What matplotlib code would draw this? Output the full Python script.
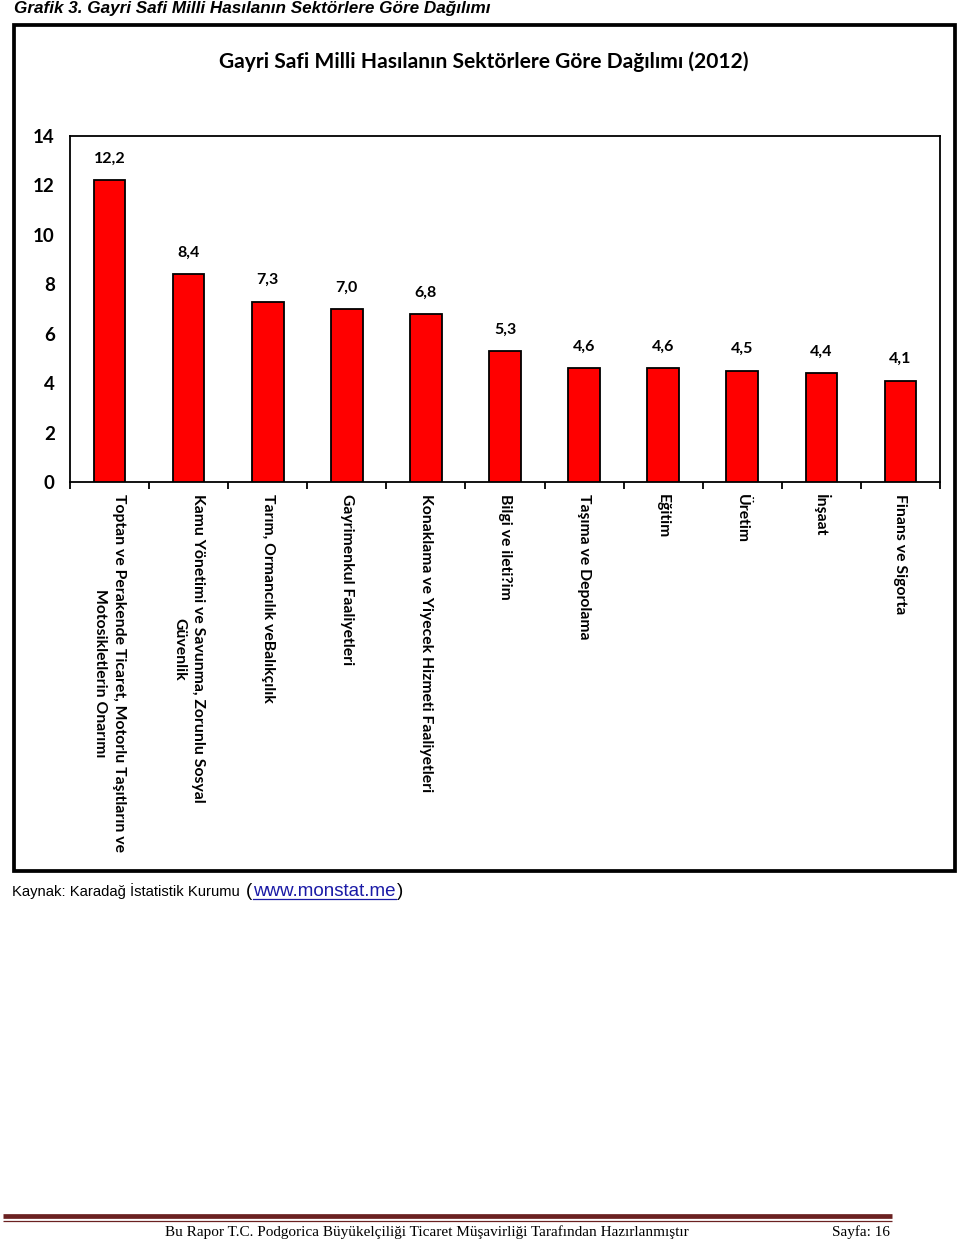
import matplotlib
matplotlib.use("Agg")
import matplotlib.pyplot as plt
from matplotlib.patches import Rectangle
from matplotlib.lines import Line2D

categories = [
    "Toptan ve Perakende Ticaret, Motorlu Taşıtların ve\nMotosikletlerin Onarımı",
    "Kamu Yönetimi ve Savunma, Zorunlu Sosyal\nGüvenlik",
    "Tarım, Ormancılık veBalıkçılık",
    "Gayrimenkul Faaliyetleri",
    "Konaklama ve Yiyecek Hizmeti Faaliyetleri",
    "Bilgi ve ileti?im",
    "Taşıma ve Depolama",
    "Eğitim",
    "Üretim",
    "İnşaat",
    "Finans ve Sigorta",
]
values = [12.2, 8.4, 7.3, 7.0, 6.8, 5.3, 4.6, 4.6, 4.5, 4.4, 4.1]
value_labels = ["12,2", "8,4", "7,3", "7,0", "6,8", "5,3", "4,6", "4,6", "4,5", "4,4", "4,1"]
yticks = [0, 2, 4, 6, 8, 10, 12, 14]

header = "Grafik 3. Gayri Safi Milli Hasılanın Sektörlere Göre Dağılımı"
chart_title = "Gayri Safi Milli Hasılanın Sektörlere Göre Dağılımı (2012)"
source_a = "Kaynak: Karadağ İstatistik Kurumu"
source_link = "www.monstat.me"
footer_text = "Bu Rapor T.C. Podgorica Büyükelçiliği Ticaret Müşavirliği Tarafından Hazırlanmıştır"
footer_page = "Sayfa: 16"

W, H = 960, 1242
fig = plt.figure(figsize=(W / 100, H / 100), dpi=100)

def fx(x):
    return x / W

def fy(y):
    return 1 - y / H

CAL = ["Lato", "DejaVu Sans"]

# outer frame
fig.patches.append(Rectangle((fx(13.5), fy(870.5)), fx(955) - fx(13.5), fy(25) - fy(870.5),
                             transform=fig.transFigure, fill=False, edgecolor="black",
                             linewidth=2.7, zorder=0))

# axes
left, right, top, bottom = 70, 940, 136, 482
ax = fig.add_axes([fx(left), fy(bottom), fx(right) - fx(left), fy(top) - fy(bottom)])
x = list(range(len(values)))
ax.bar(x, values, width=0.4, color="#FF0000", edgecolor="black", linewidth=1.3, zorder=3)
ax.set_xlim(-0.5, len(values) - 0.5)
ax.set_ylim(0, 14)
ax.set_yticks(yticks)
ax.set_yticklabels([str(t) for t in yticks], fontsize=13.5, fontweight="bold", family=CAL)
ax.tick_params(axis="y", length=0, pad=11)
ax.set_xticks(x)
ax.set_xticklabels(categories, rotation=270, ha="center", va="top", multialignment="center",
                   fontsize=11.3, fontweight="bold", family=CAL, linespacing=1.5)
ax.tick_params(axis="x", which="major", length=0, pad=9)
ax.set_xticks([i - 0.5 for i in range(len(values) + 1)], minor=True)
ax.tick_params(axis="x", which="minor", length=5, width=1.3, direction="out")
for s in ax.spines.values():
    s.set_linewidth(1.3)
for i, (v, lab) in enumerate(zip(values, value_labels)):
    ax.annotate(lab, (i, v), xytext=(0, 15.5), textcoords="offset points", ha="center", va="center",
                fontsize=11.5, fontweight="bold", family=CAL)

# titles
fig.text(fx(484), fy(62), chart_title, ha="center", va="center", fontsize=15.1, fontweight="bold", family=CAL)
fig.text(fx(14), fy(9), header, ha="left", va="center", fontsize=12.3, fontweight="bold",
         style="italic", family="Liberation Sans")

# source
base_y = fy(896)
t1 = fig.text(fx(12), base_y, source_a, ha="left", va="baseline", fontsize=10.6,
              family="Liberation Sans")
fig.canvas.draw()
bb = t1.get_window_extent()
t_open = fig.text((bb.x1 + 6) / W, base_y, "(", ha="left", va="baseline", fontsize=13.5,
                  family="Liberation Sans")
fig.canvas.draw()
bbo = t_open.get_window_extent()
t2 = fig.text((bbo.x1 + 1) / W, base_y, source_link, ha="left", va="baseline", fontsize=13.5,
              family="Liberation Sans", color="#1a1aa6")
fig.canvas.draw()
bb2 = t2.get_window_extent()
fig.lines.append(Line2D([bb2.x0 / W, bb2.x1 / W], [fy(898.5), fy(898.5)], transform=fig.transFigure,
                        color="#1a1aa6", linewidth=0.9))
fig.text((bb2.x1 + 1) / W, base_y, ")", ha="left", va="baseline", fontsize=13.5, family="Liberation Sans")

# footer
fig.lines.append(Line2D([fx(3), fx(892)], [fy(1215.5), fy(1215.5)], transform=fig.transFigure,
                        color="#6b2121", linewidth=3.4, solid_capstyle="butt"))
fig.lines.append(Line2D([fx(3), fx(892)], [fy(1220.5), fy(1220.5)], transform=fig.transFigure,
                        color="#6b2121", linewidth=0.9, solid_capstyle="butt"))
fig.text(fx(165), fy(1232), footer_text, ha="left", va="center", fontsize=11, family="Liberation Serif")
fig.text(fx(832), fy(1232), footer_page, ha="left", va="center", fontsize=11, family="Liberation Serif")

fig.savefig("out.png", dpi=100)
